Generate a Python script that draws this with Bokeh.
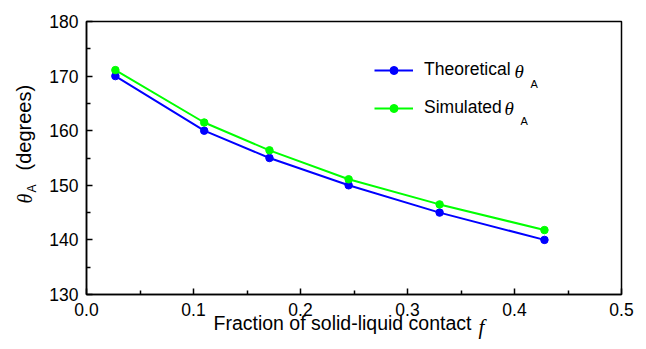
from bokeh.plotting import figure
from bokeh.models import (Legend, LegendItem, Label, FixedTicker,
                          NumeralTickFormatter, Range1d)
from bokeh.embed import file_html
from bokeh.resources import INLINE

# Fraction of solid-liquid contact and advancing contact angles (degrees)
fraction = [0.027, 0.110, 0.171, 0.245, 0.330, 0.428]
theta_theoretical = [170.0, 160.0, 155.0, 150.0, 145.0, 140.0]
theta_simulated = [171.1, 161.5, 156.4, 151.1, 146.5, 141.8]

x_ticks = [0.0, 0.1, 0.2, 0.3, 0.4, 0.5]
x_minor = [0.05, 0.15, 0.25, 0.35, 0.45]
y_ticks = [130, 140, 150, 160, 170, 180]
y_minor = [135, 145, 155, 165, 175]

SANS = "Liberation Sans"
SERIF = "Liberation Serif"

p = figure(width=646, height=349, output_backend="svg", toolbar_location=None,
           x_range=Range1d(0, 0.5), y_range=Range1d(130, 180),
           min_border_left=86, min_border_right=25,
           min_border_top=21, min_border_bottom=55)
p.xgrid.visible = False
p.ygrid.visible = False
p.outline_line_color = "black"
p.outline_line_width = 1.5
p.outline_line_alpha = 1.0
p.background_fill_color = "white"
p.border_fill_color = "white"

p.xaxis.ticker = FixedTicker(ticks=x_ticks, minor_ticks=x_minor)
p.yaxis.ticker = FixedTicker(ticks=y_ticks, minor_ticks=y_minor)
p.xaxis.formatter = NumeralTickFormatter(format="0.0")
p.yaxis.formatter = NumeralTickFormatter(format="0")
for ax in (p.xaxis, p.yaxis):
    ax.axis_line_color = "black"
    ax.axis_line_width = 1.5
    ax.major_tick_line_color = "black"
    ax.major_tick_line_width = 1.5
    ax.minor_tick_line_color = "black"
    ax.minor_tick_line_width = 1.5
    ax.major_tick_in = 6
    ax.major_tick_out = 0
    ax.minor_tick_in = 4
    ax.minor_tick_out = 0
    ax.major_label_text_font = SANS
    ax.major_label_text_font_size = "17.5px"
    ax.major_label_text_color = "black"
p.xaxis.major_label_standoff = 8
p.yaxis.major_label_standoff = 8

blue = "#0000ff"
green = "#00ff00"

l1 = p.line(fraction, theta_theoretical, line_color=blue, line_width=2)
s1 = p.scatter(fraction, theta_theoretical, size=7.5, fill_color=blue, line_color=blue)
l2 = p.line(fraction, theta_simulated, line_color=green, line_width=2)
s2 = p.scatter(fraction, theta_simulated, size=7.5, fill_color=green, line_color=green)

legend = Legend(items=[LegendItem(label="Theoretical", renderers=[l1, s1]),
                       LegendItem(label="Simulated", renderers=[l2, s2])],
                location=(288, 176), orientation="vertical",
                glyph_width=39, glyph_height=20, label_height=20,
                label_standoff=11, spacing=17, padding=0, margin=0,
                border_line_color=None, background_fill_alpha=0,
                label_text_font=SANS, label_text_font_size="17.5px",
                label_text_color="black")
p.add_layout(legend)

ROT = 1.5707963


def text_label(x, y, text, font=SANS, size="17px", style="normal",
               align="left", baseline="middle", angle=0.0, place=None):
    """Add a text label; x/y are pixel offsets within the panel it lives in."""
    lab = Label(x=x, y=y, x_units="screen", y_units="screen",
                text=text, text_font=font, text_font_size=size,
                text_font_style=style, text_align=align, text_baseline=baseline,
                text_color="black", angle=angle)
    if place is None:
        p.add_layout(lab)
    else:
        p.add_layout(lab, place)


# legend symbols: italic theta with subscript A (inside the frame)
text_label(428, 223, "\u03b8", font=SERIF, size="19px", style="italic")
text_label(444, 211, "A", size="11px")
text_label(418, 186, "\u03b8", font=SERIF, size="19px", style="italic")
text_label(434, 174, "A", size="11px")

# x-axis title, in the panel below the axis
text_label(127, 18, "Fraction of solid-liquid contact", size="19.5px", place="below")
# italic f, kept in the right-hand panel
text_label(-143, -32, "f", font=SERIF, size="21px", style="italic", place="right")

# y-axis title pieces (rotated), in the left panels
text_label(-1, 124, "(degrees)", size="20px", angle=ROT, place="left")
text_label(22, 91, "\u03b8", font=SERIF, size="20px", style="italic", angle=ROT, place="left")
text_label(-596, 102, "A", size="12px", angle=ROT, place="right")

open("out.html", "w").write(file_html(p, INLINE))
